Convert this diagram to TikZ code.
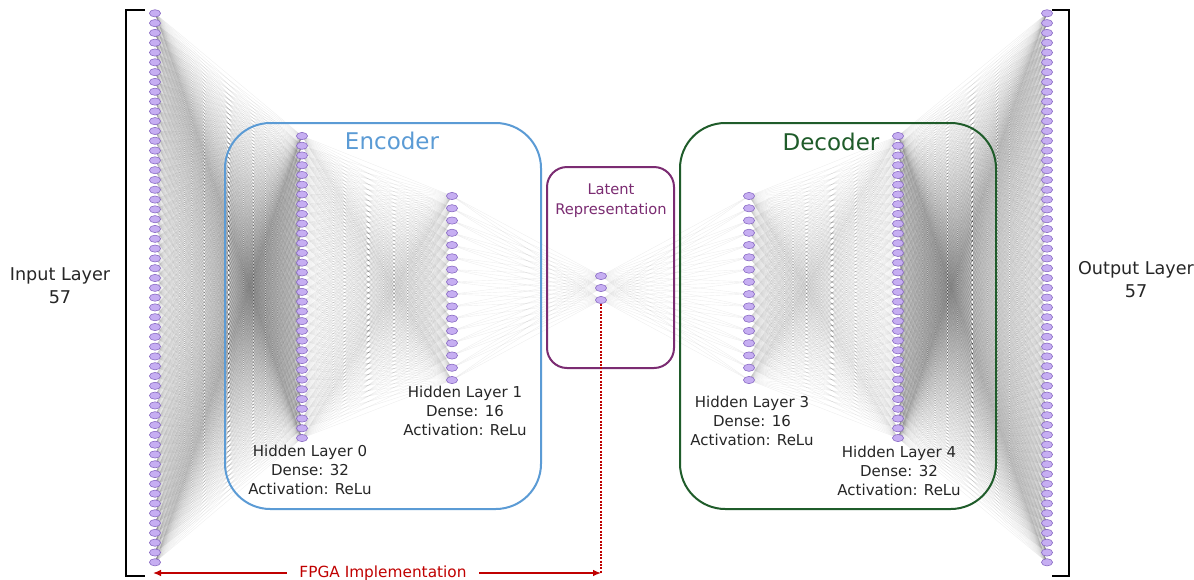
\documentclass[tikz,border=0pt]{standalone}
\usepackage{fontspec}
\setmainfont{DejaVu Sans}
\usetikzlibrary{shapes.geometric,arrows.meta,backgrounds}

\definecolor{neuronfill}{HTML}{C6AEF2}
\definecolor{neurondraw}{HTML}{8A6CC4}
\definecolor{encblue}{HTML}{5B9BD5}
\definecolor{decgreen}{HTML}{1F5C2A}
\definecolor{latpurple}{HTML}{7B2C72}
\definecolor{fpgared}{HTML}{C00000}

\tikzset{
  neuron/.style={ellipse, draw=neurondraw, fill=neuronfill, line width=0.45pt,
    minimum width=8.4pt, minimum height=5.4pt, inner sep=0pt},
  synapse/.style={line width=0.3pt, draw=black, draw opacity=0.065},
  groupbox/.style={draw, line width=1.5pt, fill=none, inner sep=0pt},
  layerlabel/.style={align=center, font=\fontsize{11.25}{14.25}\selectfont, text=black!85},
  endlabel/.style={align=center, font=\fontsize{13.2}{17.25}\selectfont, text=black!85},
  grouptitle/.style={font=\fontsize{17.25}{20}\selectfont},
  bracket/.style={line width=1.6pt, line join=miter},
  fpgaarrow/.style={draw=fpgared, line width=1pt, -{Latex[length=6pt,width=5pt]}}
}

\begin{document}
\begin{tikzpicture}[x=0.75pt, y=-0.75pt]
\useasboundingbox (0,0) rectangle (1194,579);

% neurons of each layer
\foreach \i in {1,...,57}
  \node[neuron] (in-\i) at (155,{13.3+(\i-1)*9.8036}) {};
\foreach \i in {1,...,32}
  \node[neuron] (ha-\i) at (302,{136+(\i-1)*9.742}) {};
\foreach \i in {1,...,16}
  \node[neuron] (hb-\i) at (452,{196+(\i-1)*12.267}) {};
\foreach \i in {1,...,3}
  \node[neuron] (lat-\i) at (601,{276+(\i-1)*12}) {};
\foreach \i in {1,...,16}
  \node[neuron] (hc-\i) at (749,{196+(\i-1)*12.267}) {};
\foreach \i in {1,...,32}
  \node[neuron] (hd-\i) at (898,{136+(\i-1)*9.742}) {};
\foreach \i in {1,...,57}
  \node[neuron] (out-\i) at (1047,{13.3+(\i-1)*9.8036}) {};

% dense connections, drawn behind the neurons
\begin{pgfonlayer}{background}
  \fill[white] (0,0) rectangle (1194,579);
  \foreach \i in {1,...,57}{\foreach \j in {1,...,32}{
    \draw[synapse] (in-\i.center) -- (ha-\j.center);}}
  \foreach \i in {1,...,32}{\foreach \j in {1,...,16}{
    \draw[synapse] (ha-\i.center) -- (hb-\j.center);}}
  \foreach \i in {1,...,16}{\foreach \j in {1,...,3}{
    \draw[synapse] (hb-\i.center) -- (lat-\j.center);}}
  \foreach \i in {1,...,3}{\foreach \j in {1,...,16}{
    \draw[synapse] (lat-\i.center) -- (hc-\j.center);}}
  \foreach \i in {1,...,16}{\foreach \j in {1,...,32}{
    \draw[synapse] (hc-\i.center) -- (hd-\j.center);}}
  \foreach \i in {1,...,32}{\foreach \j in {1,...,57}{
    \draw[synapse] (hd-\i.center) -- (out-\j.center);}}
\end{pgfonlayer}

% encoder, latent and decoder frames
\node[groupbox, draw=encblue, rounded corners=34pt,
  minimum width=237pt, minimum height=289.5pt] (encbox) at (383,316) {};
\node[groupbox, draw=latpurple, rounded corners=15pt,
  minimum width=95.25pt, minimum height=150.75pt] (latbox) at (610.5,267.5) {};
\node[groupbox, draw=decgreen, rounded corners=34pt,
  minimum width=237pt, minimum height=289.5pt] (decbox) at (838,316) {};

\node[grouptitle, text=encblue] (enctitle) at (392,141) {Encoder};
\node[grouptitle, text=decgreen] (dectitle) at (831,142) {Decoder};
\node[align=center, text=latpurple, font=\fontsize{11}{15}\selectfont]
  (lattitle) at (611,201) {Latent\\Representation};

% layer descriptions
\node[layerlabel] (lbla) at (310,470) {Hidden Layer 0\\Dense: 32\\Activation: ReLu};
\node[layerlabel] (lblb) at (465,411) {Hidden Layer 1\\Dense: 16\\Activation: ReLu};
\node[layerlabel] (lblc) at (752,421) {Hidden Layer 3\\Dense: 16\\Activation: ReLu};
\node[layerlabel] (lbld) at (899,471) {Hidden Layer 4\\Dense: 32\\Activation: ReLu};
\node[endlabel] (lblin) at (60,286) {Input Layer\\57};
\node[endlabel] (lblout) at (1136,280) {Output Layer\\57};

% brackets round the input and output layers
\draw[bracket] (145,10) -- (126,10) -- (126,576) -- (145,576);
\draw[bracket] (1052,10) -- (1069,10) -- (1069,576) -- (1052,576);

% span of the FPGA implementation
\node[text=fpgared, font=\fontsize{11.5}{14}\selectfont, inner xsep=9.5pt]
  (fpga) at (383,573) {FPGA Implementation};
\coordinate (fpgaL) at (153,573);
\coordinate (fpgaR) at (601,573);
\draw[fpgaarrow] (fpga.west) -- (fpgaL);
\draw[fpgaarrow] (fpga.east) -- (fpgaR);
\draw[draw=fpgared, line width=0.8pt, dash pattern=on 1.5pt off 1pt]
  (lat-3.south) -- (fpgaR);
\end{tikzpicture}
\end{document}
